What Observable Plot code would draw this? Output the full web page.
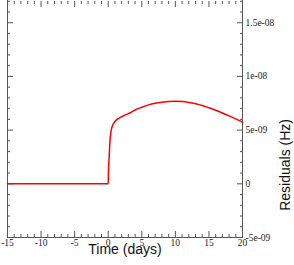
<!DOCTYPE html>
<html>
<head>
<meta charset="utf-8">
<script src="https://cdn.jsdelivr.net/npm/d3@7"></script>
<script src="https://cdn.jsdelivr.net/npm/@observablehq/plot@0.6"></script>
<style>
  html, body { margin: 0; padding: 0; background: #fff; }
  svg { display: block; }
  svg g[aria-label$="tick label"] text { font-family: 'Liberation Serif', 'DejaVu Serif', serif; }
</style>
</head>
<body>
<div id="chart"></div>
<script>
const days = [-15, 0, 0.03, 0.08, 0.15, 0.25, 0.45, 0.7, 1, 1.7, 2.5, 3.3, 4, 5, 6, 7, 8, 9, 10, 11, 12, 13, 14, 15, 16, 17, 18, 19, 20];
const residuals = [0, 0, 1.0e-9, 1.8e-9, 2.6e-9, 3.9e-9, 5.0e-9, 5.5e-9, 5.8e-9, 6.15e-9, 6.4e-9, 6.62e-9, 6.87e-9, 7.13e-9, 7.35e-9, 7.5e-9, 7.6e-9, 7.67e-9, 7.69e-9, 7.66e-9, 7.58e-9, 7.46e-9, 7.3e-9, 7.08e-9, 6.85e-9, 6.6e-9, 6.33e-9, 6.04e-9, 5.74e-9];

const xMajor = [-15, -10, -5, 0, 5, 10, 15, 20];
const xMinor = d3.range(-15, 21, 1).filter(d => d % 5 !== 0);
const yMajor = [-5e-9, 0, 5e-9, 1e-8, 1.5e-8];
const yTickLabels = ["-5e-09", "0", "5e-09", "1e-08", "1.5e-08"];
const yMinor = d3.range(-5, 18, 1).filter(d => d % 5 !== 0).map(d => d * 1e-9);
const xDomain = [-15, 20];
const yDomain = [-5e-9, 1.707e-8];
const xLabel = "Time (days)";
const yLabel = "Residuals (Hz)";

const data = days.map((d, i) => ({day: d, res: residuals[i]}));

const axisColor = "#555";
const serif = "'Liberation Serif', 'DejaVu Serif', serif";
const sans = "'Liberation Sans', Arial, sans-serif";

const chart = Plot.plot({
  width: 294,
  height: 265,
  marginLeft: 7,
  marginRight: 52,
  marginTop: 0,
  marginBottom: 28,
  x: {domain: xDomain},
  y: {domain: yDomain},
  style: {background: "#fff", fontFamily: serif, color: "#222"},
  marks: [
    Plot.ruleX(xDomain, {stroke: axisColor, strokeWidth: 1}),
    Plot.ruleY([yDomain[0]], {stroke: axisColor, strokeWidth: 1}),
    Plot.axisX({anchor: "bottom", ticks: xMajor, tickSize: -6, text: null, label: null, stroke: axisColor}),
    Plot.axisX({anchor: "bottom", ticks: xMinor, tickSize: -3, text: null, label: null, stroke: axisColor}),
    Plot.axisX({anchor: "top", ticks: xMajor, tickSize: -6, text: null, label: null, stroke: axisColor}),
    Plot.axisX({anchor: "top", ticks: xMinor, tickSize: -3, text: null, label: null, stroke: axisColor}),
    Plot.axisY({anchor: "left", ticks: yMajor, tickSize: -6, text: null, label: null, stroke: axisColor}),
    Plot.axisY({anchor: "left", ticks: yMinor, tickSize: -3, text: null, label: null, stroke: axisColor}),
    Plot.axisY({anchor: "right", ticks: yMajor, tickSize: -6, text: null, label: null, stroke: axisColor}),
    Plot.axisY({anchor: "right", ticks: yMinor, tickSize: -3, text: null, label: null, stroke: axisColor}),
    Plot.axisX({anchor: "bottom", ticks: xMajor, tickSize: 0, tickPadding: 2, label: null,
      fontFamily: serif, fontSize: 9.5, fill: "#222", tickFormat: d => String(d)}),
    Plot.axisY({anchor: "right", ticks: yMajor, tickSize: 0, tickPadding: 3, label: null,
      fontFamily: serif, fontSize: 9.5, fill: "#222", tickFormat: (d, i) => yTickLabels[i]}),
    Plot.line(data, {x: "day", y: "res", stroke: "#ff0000", strokeWidth: 1.5, curve: "monotone-x"}),
    Plot.text([xLabel], {frameAnchor: "bottom", dy: 16.5, fontFamily: sans, fontSize: 14, fill: "#111"}),
    Plot.text([yLabel], {frameAnchor: "right", rotate: -90, dx: 43, fontFamily: sans, fontSize: 14, fill: "#111"})
  ]
});
document.getElementById("chart").appendChild(chart);
</script>
</body>
</html>
